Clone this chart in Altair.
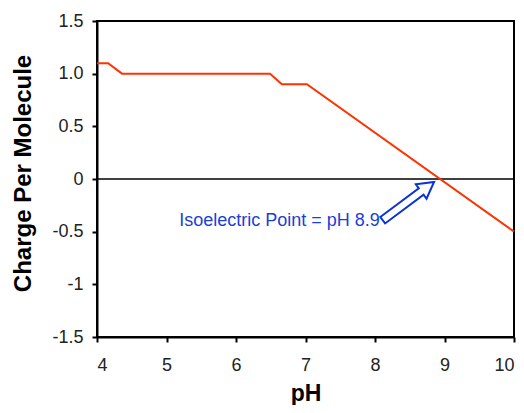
import altair as alt
import pandas as pd

ph = [4.0, 4.16, 4.36, 6.49, 6.66, 7.02, 10.0]
charge = [1.1, 1.1, 1.0, 1.0, 0.9, 0.9, -0.5]

label_text = ["Isoelectric Point = pH 8.9"]
label_ph = [8.07]
label_charge = [-0.40]

arrow_ph = [8.48]
arrow_charge = [-0.21]

line_df = pd.DataFrame({"pH": ph, "charge": charge})
zero_df = pd.DataFrame({"y": [0.0]})
label_df = pd.DataFrame({"pH": label_ph, "charge": label_charge, "text": label_text})
arrow_df = pd.DataFrame({"pH": arrow_ph, "charge": arrow_charge})

xscale = alt.Scale(domain=[4, 10], nice=False, zero=False)
yscale = alt.Scale(domain=[-1.5, 1.5], nice=False)

FONT = "Liberation Sans"

xaxis = alt.Axis(
    title="pH", values=[4, 5, 6, 7, 8, 9, 10], grid=False, format="d",
    titleFontSize=23, titleFontWeight="bold", titleColor="#000", titleFont=FONT,
    titlePadding=8, labelFontSize=18, labelColor="#222", labelFont=FONT,
    labelPadding=14, tickSize=5, tickColor="#000", domainColor="#000",
    domainWidth=2, tickWidth=2,
)
yaxis = alt.Axis(
    title="Charge Per Molecule", values=[-1.5, -1, -0.5, 0, 0.5, 1, 1.5], grid=False,
    labelExpr="datum.value == 1 ? '1.0' : '' + datum.value",
    titleFontSize=24, titleFontWeight="bold", titleColor="#000", titleFont=FONT,
    titlePadding=16, titleY=152, labelFontSize=18, labelColor="#222", labelFont=FONT,
    labelPadding=9, tickSize=5, tickColor="#000", domainColor="#000",
    domainWidth=2, tickWidth=2,
)

line = alt.Chart(line_df).mark_line(color="#ff3300", strokeWidth=2).encode(
    x=alt.X("pH:Q", scale=xscale, axis=xaxis),
    y=alt.Y("charge:Q", scale=yscale, axis=yaxis),
)

zero = alt.Chart(zero_df).mark_rule(color="#000", strokeWidth=1.5).encode(
    y=alt.Y("y:Q", scale=yscale)
)

label = alt.Chart(label_df).mark_text(
    align="right", baseline="middle", color="#1a3fd6", fontSize=18, font=FONT
).encode(
    x=alt.X("pH:Q", scale=xscale),
    y=alt.Y("charge:Q", scale=yscale),
    text="text:N",
)

arrow_path = "M -1 -0.125 L 0.5 -0.125 L 0.5 -0.28 L 1 0 L 0.5 0.28 L 0.5 0.125 L -1 0.125 Z"
arrow = alt.Chart(arrow_df).mark_point(
    shape=arrow_path, size=4096, angle=323.3, filled=False,
    stroke="#0a32d8", strokeWidth=2, opacity=1,
).encode(
    x=alt.X("pH:Q", scale=xscale),
    y=alt.Y("charge:Q", scale=yscale),
)

chart = alt.layer(zero, line, arrow, label).properties(
    width=417, height=316,
    autosize=alt.AutoSizeParams(type="none"),
    padding={"left": 89, "top": 13, "right": 2, "bottom": 68},
).configure(background="white").configure_view(stroke="#000", strokeWidth=2)

chart.save("out.html", embed_options={"renderer": "svg", "actions": False})
